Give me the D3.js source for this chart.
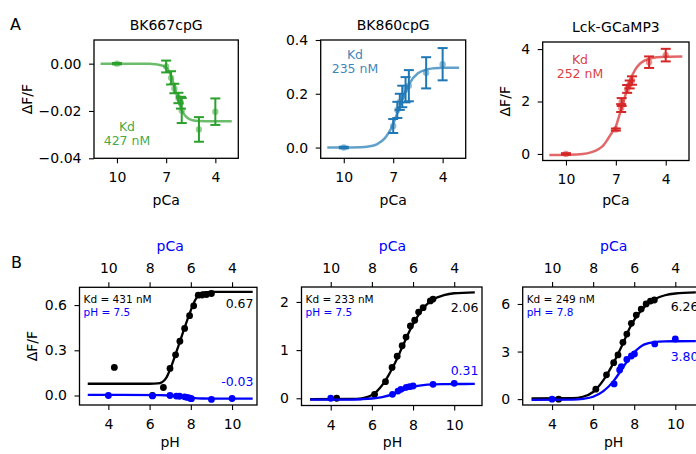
<!DOCTYPE html>
<html>
<head>
<meta charset="utf-8">
<script src="https://cdn.jsdelivr.net/npm/d3@7"></script>
<style>
  body { margin: 0; background: #fff; }
  text { font-family: "DejaVu Sans", sans-serif; }
</style>
</head>
<body>
<svg id="chart" width="696" height="454"></svg>
<script>
// ---------- data ----------
const pcaTicksA = [10, 7, 4];
const phTicks = [4, 6, 8, 10];
const pcaTicksB = [10, 8, 6, 4];

// row A: [pCa, dF/F, error]
const bk667Pts = [[10, 0.0, 0.0003], [7.0, -0.0012, 0.0025], [6.7, -0.006, 0.0028], [6.5, -0.0105, 0.002],
  [6.25, -0.0145, 0.0022], [6.1, -0.0165, 0.0025], [6.05, -0.0198, 0.0053], [5.0, -0.0278, 0.0052], [4.0, -0.0203, 0.0056]];
const bk667Fit = [[11, 0], [8, 0], [7.6, -0.0003], [7.3, -0.0007], [7.0, -0.0016], [6.8, -0.0035], [6.6, -0.0072],
  [6.4, -0.0122], [6.2, -0.0168], [6.0, -0.0203], [5.8, -0.0223], [5.6, -0.0234], [5.4, -0.0239], [5.0, -0.0242], [4, -0.0243], [3, -0.0243]];

const bk860Pts = [[10, 0.0, 0.003], [7.0, 0.08, 0.026], [6.75, 0.14, 0.03], [6.6, 0.17, 0.03], [6.45, 0.19, 0.04],
  [6.25, 0.215, 0.047], [6.05, 0.23, 0.058], [5.0, 0.278, 0.058], [4.0, 0.31, 0.06]];
const bk860Fit = [[11, 0.0], [10, 0.0004], [9, 0.0013], [8.5, 0.004], [8, 0.012], [7.5, 0.035], [7.25, 0.057], [7, 0.088],
  [6.75, 0.128], [6.5, 0.17], [6.25, 0.209], [6, 0.24], [5.5, 0.276], [5, 0.29], [4.5, 0.295], [4, 0.297], [3, 0.297]];

const lckPts = [[10, 0.0, 0.03], [7.0, 0.93, 0.04], [6.68, 1.75, 0.15], [6.65, 1.98, 0.15], [6.32, 2.48, 0.15],
  [6.17, 2.65, 0.15], [6.03, 2.8, 0.16], [5.0, 3.5, 0.22], [4.0, 3.77, 0.24]];
const lckFit = [[11, -0.04], [10, -0.03], [9, 0.0], [8.5, 0.06], [8, 0.2], [7.75, 0.33], [7.5, 0.55], [7.25, 0.8], [7.0, 1.05],
  [6.8, 1.45], [6.6, 1.86], [6.4, 2.3], [6.2, 2.72], [6.0, 3.02], [5.75, 3.3], [5.5, 3.47], [5.0, 3.63], [4.5, 3.69], [4, 3.71], [3, 3.72]];

// row B: black = Ca titration [pCa, dF/F], blue = pH titration [pH, dF/F]
const b1CaPts = [[9.71, 0.186], [7.86, 0.0], [7.33, 0.053], [7.01, 0.18], [6.74, 0.27], [6.53, 0.36], [6.3, 0.445],
  [6.06, 0.53], [5.86, 0.595], [5.64, 0.666], [5.45, 0.667], [5.24, 0.67], [5.0, 0.677]];
const b1CaFit = [[11, 0.078], [8, 0.078], [7.6, 0.08], [7.4, 0.088], [7.2, 0.115], [7.0, 0.175], [6.8, 0.25], [6.6, 0.33],
  [6.4, 0.41], [6.2, 0.49], [6.0, 0.565], [5.8, 0.63], [5.6, 0.67], [5.4, 0.684], [5.0, 0.687], [3, 0.687]];
const b1PhPts = [[4.0, 0.0], [6.14, -0.003], [6.99, 0.0], [7.3, -0.004], [7.45, -0.005], [7.7, -0.009], [7.83, -0.013],
  [7.96, -0.018], [8.03, -0.021], [9.0, -0.026], [10.0, -0.02]];
const b1PhFit = [[3, 0.004], [6.5, 0.003], [7.0, 0.0], [7.4, -0.006], [7.8, -0.013], [8.2, -0.018], [8.6, -0.02], [9, -0.021], [11, -0.021]];

const b2CaPts = [[9.71, 0.0], [7.87, 0.083], [7.34, 0.345], [7.02, 0.64], [6.77, 0.875], [6.53, 1.09], [6.34, 1.27],
  [6.13, 1.5], [5.92, 1.62], [5.73, 1.79], [5.51, 1.88], [5.16, 2.02], [5.03, 2.06]];
const b2CaFit = [[11, -0.02], [9, -0.015], [8.5, 0.0], [8.2, 0.03], [8, 0.07], [7.8, 0.13], [7.6, 0.22], [7.4, 0.33],
  [7.2, 0.47], [7, 0.63], [6.8, 0.8], [6.6, 0.99], [6.4, 1.18], [6.2, 1.37], [6.0, 1.54], [5.75, 1.72], [5.5, 1.87],
  [5.25, 1.98], [5.0, 2.06], [4.5, 2.14], [4, 2.18], [3, 2.2]];
const b2PhPts = [[4.0, 0.0], [7.0, 0.083], [7.27, 0.15], [7.41, 0.186], [7.67, 0.228], [7.83, 0.24], [8.0, 0.255], [8.97, 0.29], [10.0, 0.31]];
const b2PhFit = [[3, -0.03], [5, -0.028], [5.5, -0.02], [6, -0.005], [6.5, 0.025], [7, 0.08], [7.3, 0.13], [7.6, 0.18],
  [8, 0.235], [8.5, 0.272], [9, 0.288], [9.5, 0.294], [10, 0.296], [11, 0.297]];

const b3CaPts = [[9.68, 0.0], [7.87, 0.63], [7.35, 1.53], [7.0, 2.3], [6.79, 2.79], [6.55, 3.58], [6.36, 4.1], [6.14, 4.78],
  [5.9, 5.3], [5.66, 5.68], [5.42, 6.0], [5.21, 6.18], [5.02, 6.25]];
const b3CaFit = [[11, 0.05], [9, 0.06], [8.5, 0.15], [8.0, 0.45], [7.5, 1.2], [7.0, 2.3], [6.75, 2.95], [6.5, 3.65],
  [6.25, 4.4], [6.0, 5.0], [5.75, 5.45], [5.5, 5.82], [5.25, 6.1], [5.0, 6.3], [4.5, 6.55], [4.0, 6.66], [3.0, 6.73]];
const b3PhPts = [[4.0, 0.0], [7.02, 0.96], [7.29, 1.84], [7.37, 2.05], [7.64, 2.5], [7.86, 2.72], [8.01, 2.85], [9.0, 3.48], [10.0, 3.79]];
const b3PhFit = [[3, -0.05], [5, -0.03], [5.5, 0.02], [6, 0.15], [6.5, 0.5], [7, 1.15], [7.25, 1.6], [7.5, 2.1], [7.75, 2.55],
  [8, 2.95], [8.25, 3.25], [8.5, 3.45], [9, 3.6], [9.5, 3.64], [10, 3.65], [11, 3.66]];

const titlesA = ["BK667cpG", "BK860cpG", "Lck-GCaMP3"];
const kdA = ["427 nM", "235 nM", "252 nM"];
const kdB = ["Kd = 431 nM", "Kd = 233 nM", "Kd = 249 nM"];
const phB = ["pH = 7.5", "pH = 7.5", "pH = 7.8"];
const maxCaB = ["0.67", "2.06", "6.26"];
const maxPhB = ["-0.03", "0.31", "3.80"];

// ---------- drawing ----------
const svg = d3.select("#chart");
const FS = 14;

function styleAxis(g) {
  g.select(".domain").remove();
  g.selectAll(".tick line").attr("stroke", "#000").attr("stroke-width", 1.1);
  g.selectAll(".tick text").attr("font-size", FS).attr("fill", "#000").attr("font-family", "DejaVu Sans");
}

function frame(b) {
  svg.append("rect").attr("x", b.x0).attr("y", b.y0).attr("width", b.x1 - b.x0).attr("height", b.y1 - b.y0)
    .attr("fill", "none").attr("stroke", "#000").attr("stroke-width", 1.3);
}

function topPanel(i, b, pts, fit, color, yDom, yTicks, yFmt, kdPos, yLabelX) {
  const x = d3.scaleLinear().domain([11.4, 2.6]).range([b.x0, b.x1]);
  const y = d3.scaleLinear().domain(yDom).range([b.y1, b.y0]);

  svg.append("g").attr("transform", `translate(0,${b.y1})`)
    .call(d3.axisBottom(x).tickValues(pcaTicksA).tickSize(5).tickPadding(8.5).tickFormat(d3.format("d"))).call(styleAxis);
  svg.append("g").attr("transform", `translate(${b.x0},0)`)
    .call(d3.axisLeft(y).tickValues(yTicks).tickSize(5).tickPadding(7.5).tickFormat(d3.format(yFmt))).call(styleAxis);

  const line = d3.line().x(d => x(d[0])).y(d => y(d[1])).curve(d3.curveMonotoneX);
  svg.append("path").datum(fit).attr("d", line).attr("fill", "none")
    .attr("stroke", color).attr("stroke-opacity", 0.7).attr("stroke-width", 2.5);

  const eb = svg.append("g").attr("stroke", color).attr("stroke-width", 2);
  pts.forEach(d => {
    const cx = x(d[0]), top = y(d[1] + d[2]), bot = y(d[1] - d[2]);
    eb.append("line").attr("x1", cx).attr("x2", cx).attr("y1", top).attr("y2", bot);
    eb.append("line").attr("x1", cx - 5).attr("x2", cx + 5).attr("y1", top).attr("y2", top);
    eb.append("line").attr("x1", cx - 5).attr("x2", cx + 5).attr("y1", bot).attr("y2", bot);
  });
  svg.append("g").selectAll("circle").data(pts).join("circle")
    .attr("cx", d => x(d[0])).attr("cy", d => y(d[1])).attr("r", 3.2)
    .attr("fill", color).attr("fill-opacity", 0.5);

  frame(b);

  svg.append("text").attr("x", (b.x0 + b.x1) / 2).attr("y", b.y0 - 10).attr("text-anchor", "middle")
    .attr("font-size", FS).text(titlesA[i]);
  svg.append("text").attr("x", (b.x0 + b.x1) / 2).attr("y", 205).attr("text-anchor", "middle")
    .attr("font-size", FS).text("pCa");
  const kd = svg.append("g").attr("fill", color).attr("fill-opacity", 0.9).attr("font-size", 12.5).attr("text-anchor", "middle");
  kd.append("text").attr("x", kdPos[0]).attr("y", kdPos[1] + 4.5).text("Kd");
  kd.append("text").attr("x", kdPos[0]).attr("y", kdPos[1] + 18.5).text(kdA[i]);
  if (yLabelX !== null) {
    svg.append("text").attr("transform", `translate(${yLabelX},${(b.y0 + b.y1) / 2}) rotate(-90)`)
      .attr("text-anchor", "middle").attr("dy", "0.35em").attr("font-size", FS).text("ΔF/F");
  }
}

function bottomPanel(i, b, xDom, caPts, caFit, phPts, phFit, yDom, yTicks, yFmt, labY, showYLabel) {
  const x = d3.scaleLinear().domain(xDom).range([b.x0, b.x1]);
  const xCa = d3.scaleLinear().domain([14 - xDom[0], 14 - xDom[1]]).range([b.x0, b.x1]);
  const y = d3.scaleLinear().domain(yDom).range([b.y1, b.y0]);

  svg.append("g").attr("transform", `translate(0,${b.y1})`)
    .call(d3.axisBottom(x).tickValues(phTicks).tickSize(5).tickPadding(9.5).tickFormat(d3.format("d"))).call(styleAxis);
  svg.append("g").attr("transform", `translate(0,${b.y0})`)
    .call(d3.axisTop(xCa).tickValues(pcaTicksB).tickSize(5).tickPadding(9.5).tickFormat(d3.format("d"))).call(styleAxis);
  svg.append("g").attr("transform", `translate(${b.x0},0)`)
    .call(d3.axisLeft(y).tickValues(yTicks).tickSize(5).tickPadding(7.5).tickFormat(d3.format(yFmt))).call(styleAxis);

  const caLine = d3.line().x(d => xCa(d[0])).y(d => y(d[1])).curve(d3.curveMonotoneX);
  const phLine = d3.line().x(d => x(d[0])).y(d => y(d[1])).curve(d3.curveMonotoneX);

  svg.append("path").datum(caFit).attr("d", caLine).attr("fill", "none").attr("stroke", "#000").attr("stroke-width", 2.3);
  svg.append("g").selectAll("circle").data(caPts).join("circle")
    .attr("cx", d => xCa(d[0])).attr("cy", d => y(d[1])).attr("r", 3.4).attr("fill", "#000");
  svg.append("path").datum(phFit).attr("d", phLine).attr("fill", "none").attr("stroke", "#0000ff").attr("stroke-width", 2.3);
  svg.append("g").selectAll("circle").data(phPts).join("circle")
    .attr("cx", d => x(d[0])).attr("cy", d => y(d[1])).attr("r", 3.4).attr("fill", "#0000ff");

  frame(b);

  svg.append("text").attr("x", b.x0 + 4).attr("y", b.y0 + 16).attr("font-size", 10.5).attr("fill", "#000").text(kdB[i]);
  svg.append("text").attr("x", b.x0 + 4).attr("y", b.y0 + 28.5).attr("font-size", 10.5).attr("fill", "#0000ff").text(phB[i]);
  svg.append("text").attr("x", b.x1 - 3.5).attr("y", labY[0]).attr("text-anchor", "end").attr("font-size", 12.5)
    .attr("fill", "#000").text(maxCaB[i]);
  svg.append("text").attr("x", b.x1 - 3.5).attr("y", labY[1]).attr("text-anchor", "end").attr("font-size", 12.5)
    .attr("fill", "#0000ff").text(maxPhB[i]);

  const cx = xCa(7);
  svg.append("text").attr("x", cx).attr("y", b.y0 - 36).attr("text-anchor", "middle").attr("font-size", FS)
    .attr("fill", "#0000ff").text("pCa");
  svg.append("text").attr("x", cx).attr("y", 446.5).attr("text-anchor", "middle").attr("font-size", FS).text("pH");
  if (showYLabel) {
    svg.append("text").attr("transform", `translate(31.7,${(b.y0 + b.y1) / 2}) rotate(-90)`)
      .attr("text-anchor", "middle").attr("dy", "0.35em").attr("font-size", FS).text("ΔF/F");
  }
}

// row A
topPanel(0, { x0: 94, x1: 238.3, y0: 40, y1: 158.3 }, bk667Pts, bk667Fit, "#2ca02c",
  [-0.04, 0.01], [0, -0.02, -0.04], ".2f", [127, 126], 26.7);
topPanel(1, { x0: 320.7, x1: 465.7, y0: 40, y1: 158.3 }, bk860Pts, bk860Fit, "#1f77b4",
  [-0.04, 0.4], [0, 0.2, 0.4], ".1f", [355, 54], null);
topPanel(2, { x0: 542.7, x1: 689, y0: 42, y1: 160.5 }, lckPts, lckFit, "#d62728",
  [-0.25, 4.27], [0, 2, 4], "d", [580, 59], 505);

// row B
bottomPanel(0, { x0: 79.5, x1: 257, y0: 287.3, y1: 405 }, [2.6, 11.21], b1CaPts, b1CaFit, b1PhPts, b1PhFit,
  [-0.063, 0.718], [0, 0.3, 0.6], ".1f", [307.8, 386.2], true);
bottomPanel(1, { x0: 301.5, x1: 482, y0: 287, y1: 405.5 }, [2.58, 11.35], b2CaPts, b2CaFit, b2PhPts, b2PhFit,
  [-0.15, 2.31], [0, 1, 2], "d", [311.8, 374.5], false);
bottomPanel(2, { x0: 522.7, x1: 702, y0: 287, y1: 405 }, [2.57, 11.3], b3CaPts, b3CaFit, b3PhPts, b3PhFit,
  [-0.37, 7.07], [0, 3, 6], "d", [310.5, 361.2], false);

// panel letters
svg.append("text").attr("x", 10).attr("y", 30).attr("font-size", 16).text("A");
svg.append("text").attr("x", 11).attr("y", 267.7).attr("font-size", 16).text("B");
</script>
</body>
</html>
